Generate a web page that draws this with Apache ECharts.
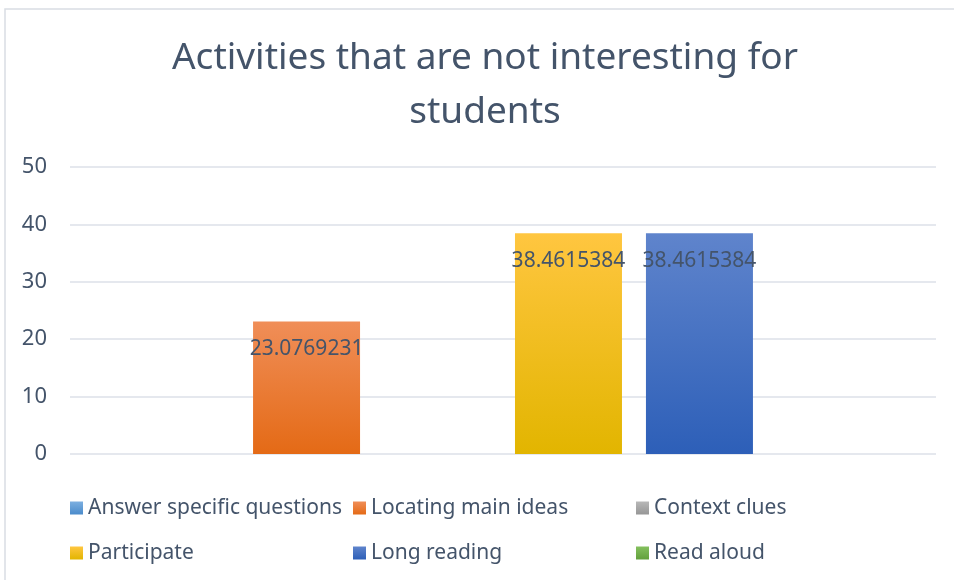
<!DOCTYPE html>
<html lang="en">

<head>
    <meta charset="UTF-8">
    <title>Activities that are not interesting for students</title>
    <script src="https://cdn.jsdelivr.net/npm/echarts@6/dist/echarts.min.js"></script>
</head>
<style>
    * {
        margin: 0;
        padding: 0;
    }

    .box {
        width: 954px;
        height: 580px;
    }
</style>

<body>
    <div class="box" id="myChart"></div>
    <script>
        // data
        const categories = [''];
        const seriesNames = ['Answer specific questions', 'Locating main ideas', 'Context clues',
            'Participate', 'Long reading', 'Read aloud'];
        const values = [0, 23.0769231, 0, 38.4615384, 38.4615384, 0];
        const yTicks = { min: 0, max: 50, interval: 10 };

        // gradient top / bottom per series
        const colorStops = [
            ['#7CAFE0', '#4A8BCB'],
            ['#F08E58', '#E46A16'],
            ['#B8B8B8', '#969696'],
            ['#FFC640', '#E2B500'],
            ['#5F84CC', '#2D5FB8'],
            ['#84C05E', '#62A03C']
        ];
        const textColor = '#44546A';
        const font = 'Noto Sans';

        let myEchart = echarts.init(document.getElementById('myChart'));

        const series = seriesNames.map(function (name, i) {
            return {
                name: name,
                type: 'bar',
                barWidth: 107,
                barGap: '22.4%',
                itemStyle: {
                    color: new echarts.graphic.LinearGradient(0, 0, 0, 1, [
                        { offset: 0, color: colorStops[i][0] },
                        { offset: 1, color: colorStops[i][1] }
                    ])
                },
                label: {
                    show: values[i] > 0,
                    position: 'insideTop',
                    distance: 17,
                    color: textColor,
                    fontSize: 21,
                    fontFamily: font
                },
                data: [values[i]]
            };
        });

        const legendBase = {
            left: 70,
            padding: 0,
            icon: 'rect',
            itemWidth: 13,
            itemHeight: 13,
            itemGap: 10,
            textStyle: {
                color: textColor,
                fontSize: 21,
                fontFamily: font,
                width: 255,
                lineHeight: 24
            }
        };

        const option = {
            backgroundColor: '#ffffff',
            animation: false,
            title: {
                text: 'Activities that are not interesting for\nstudents',
                left: 485,
                top: 31,
                padding: 0,
                textAlign: 'center',
                textStyle: {
                    color: textColor,
                    fontSize: 37,
                    fontWeight: 'normal',
                    fontFamily: font,
                    lineHeight: 54
                }
            },
            legend: [
                Object.assign({}, legendBase, { top: 496, data: seriesNames.slice(0, 3) }),
                Object.assign({}, legendBase, { top: 541, data: seriesNames.slice(3, 6) })
            ],
            grid: {
                top: 167,
                left: 70,
                right: 18,
                bottom: 126
            },
            xAxis: {
                type: 'category',
                data: categories,
                axisLine: { show: false },
                axisTick: { show: false },
                axisLabel: { show: false }
            },
            yAxis: {
                type: 'value',
                min: yTicks.min,
                max: yTicks.max,
                interval: yTicks.interval,
                axisLine: { show: false },
                axisTick: { show: false },
                axisLabel: {
                    color: textColor,
                    fontSize: 22,
                    fontFamily: font,
                    margin: 23
                },
                splitLine: {
                    lineStyle: { color: '#DCE1E8', width: 1.5 }
                }
            },
            graphic: [{
                type: 'rect',
                shape: { x: 5, y: 9, width: 1000, height: 700 },
                style: { fill: 'none', stroke: '#D9DDE3', lineWidth: 1.5 },
                silent: true
            }],
            series: series
        };
        myEchart.setOption(option, true);
    </script>
</body>

</html>
